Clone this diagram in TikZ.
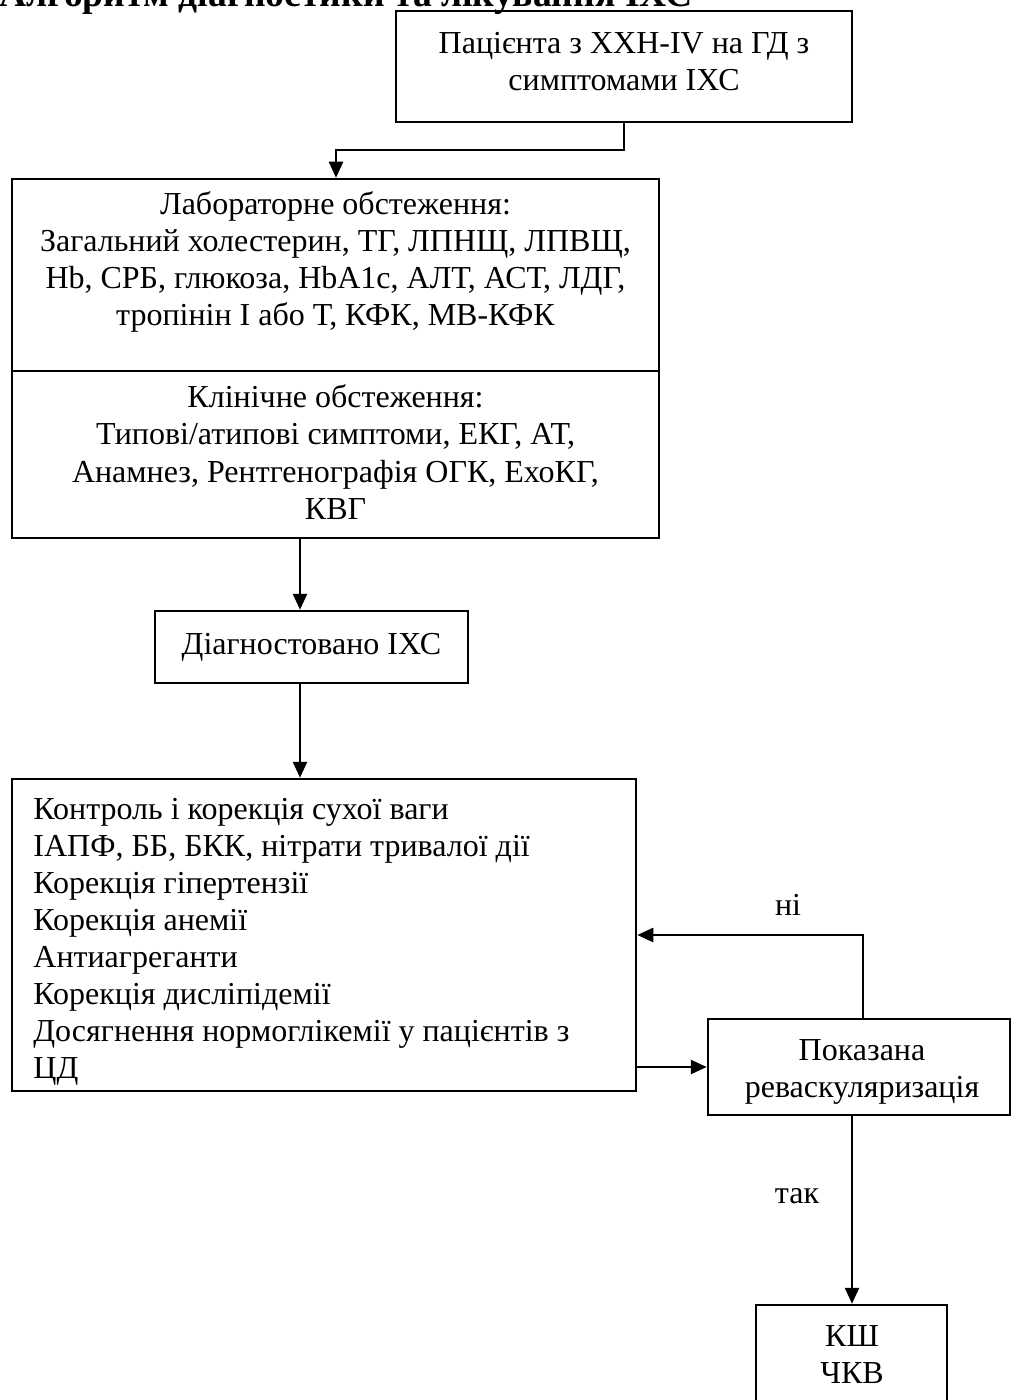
\documentclass[tikz,border=0pt]{standalone}
\usepackage{fontspec}
\setmainfont{Liberation Serif}
\usetikzlibrary{arrows.meta,fit}
\begin{document}
\begin{tikzpicture}[x=0.5pt,y=-0.5pt,
  box/.style={draw, line width=1.25pt, inner sep=0pt},
  conn/.style={line width=1.25pt},
  arr/.style={line width=1.25pt, -{Triangle[length=8pt,width=7pt]}},
  txt/.style={inner sep=0pt, font=\fontsize{16pt}{18.5pt}\selectfont, align=center},
  lbl/.style={inner sep=0pt, font=\fontsize{16pt}{18.5pt}\selectfont}
]
\useasboundingbox (0,0) rectangle (1012,1400);
\fill[white] (0,0) rectangle (1012,1400);
\begin{scope}
\clip (0,0) rectangle (1012,1400);
% title (cut off at the top edge)
\node[inner sep=0pt, font=\fontsize{18.8pt}{21pt}\selectfont\bfseries, anchor=base east] (title) at (693,7) {Алгоритм діагностики та лікування ІХС};
% boxes
\node[box, fit={(396,11)(852,122)}] (b1) {};
\node[box, fit={(12,179)(659,538)}] (b2) {};
\node[box, fit={(155,611)(468,683)}] (b3) {};
\node[box, fit={(12,779)(636,1091)}] (b4) {};
\node[box, fit={(708,1019)(1010,1115)}] (b5) {};
\node[box, fit={(756,1305)(947,1430)}] (b6) {};
% divider inside b2
\coordinate (dv) at (0,371);
\draw[conn] (b2.west |- dv) -- (b2.east |- dv);
% texts (anchored at the baseline of their last line)
\node[txt, anchor=base] (t1) at (624,91) {Пацієнта з ХХН-IV на ГД з\\симптомами ІХС};
\node[txt, anchor=base] (t2) at (335.5,326) {Лабораторне обстеження:\\Загальний холестерин, ТГ, ЛПНЩ, ЛПВЩ,\\Hb, СРБ, глюкоза, HbA1c, АЛТ, АСТ, ЛДГ,\\тропінін І або Т, КФК, МВ-КФК};
\node[txt, anchor=base] (t3) at (335.5,519) {Клінічне обстеження:\\Типові/атипові симптоми, ЕКГ, АТ,\\Анамнез, Рентгенографія ОГК, ЕхоКГ,\\КВГ};
\node[txt, anchor=base] (t4) at (311.5,654) {Діагностовано ІХС};
\node[txt, align=left, anchor=base west] (t5) at (33,1078) {Контроль і корекція сухої ваги\\ІАПФ, ББ, БКК, нітрати тривалої дії\\Корекція гіпертензії\\Корекція анемії\\Антиагреганти\\Корекція дисліпідемії\\Досягнення нормоглікемії у пацієнтів з\\ЦД};
\node[txt, anchor=base] (t6) at (862,1097) {Показана\\реваскуляризація};
\node[txt, anchor=base] (t7) at (852,1383) {КШ\\ЧКВ};
\node[lbl, anchor=base] (ni) at (788,915) {ні};
\node[lbl, anchor=base] (tak) at (797,1203) {так};
% connectors
\coordinate (k1) at (336,150);
\draw[arr] (b1.south) |- (k1) -- (k1 |- b2.north);
\coordinate (ax) at (300,0);
\draw[arr] (b2.south -| ax) -- (b3.north -| ax);
\draw[arr] (b3.south -| ax) -- (b4.north -| ax);
\coordinate (yin) at (0,1067);
\draw[arr] (b4.east |- yin) -- (b5.west |- yin);
\coordinate (lp) at (863,935);
\draw[arr] (b5.north -| lp) |- (b4.east |- lp);
\coordinate (dx) at (852,0);
\draw[arr] (b5.south -| dx) -- (b6.north -| dx);
\end{scope}
\end{tikzpicture}
\end{document}
